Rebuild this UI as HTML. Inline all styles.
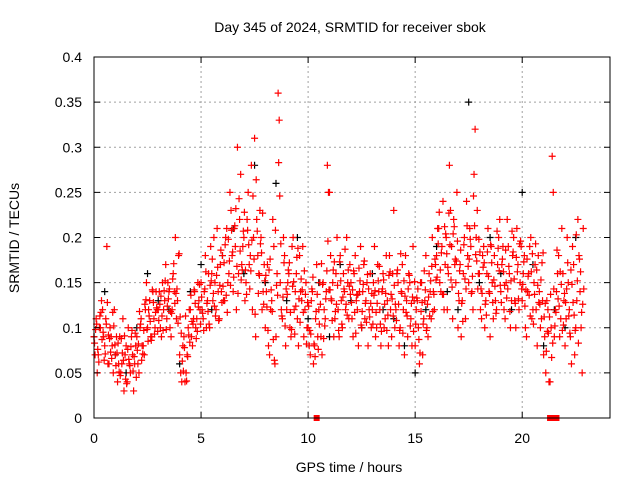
<!DOCTYPE html>
<html><head><meta charset="utf-8"><style>
body{margin:0;background:#fff}
svg{display:block;font-family:"Liberation Sans",sans-serif;font-size:14px}
</style></head><body>
<svg id="chart" width="640" height="480">
<rect width="640" height="480" fill="#fff"/>
<g id="grid"></g>
<g id="marks"></g>
<g id="axes"></g>
<text x="350" y="32" text-anchor="middle">Day 345 of 2024, SRMTID for receiver sbok</text>
<text x="349" y="472" text-anchor="middle">GPS time / hours</text>
<text transform="translate(19,238) rotate(-90)" text-anchor="middle">SRMTID / TECUs</text>
</svg>
<script>
const xTicks=[0,5,10,15,20];
const yTicks=[0,0.05,0.1,0.15,0.2,0.25,0.3,0.35,0.4];
const yTickLabels=["0","0.05","0.1","0.15","0.2","0.25","0.3","0.35","0.4"];
const redA=[.09,.11,.07,.10,.12,.08,.19,.06,.09,.05,.07,.04,.09,.06,.03,.08,.10,.05,.07,.06,.09,.05,.11,.08,.12,.10,.13,.09,.11,.14,.12,.10,.15,.13,.11,.14,.09,.16,.20,.13,.07,.04,.09,.05,.10,.12,.08,.14,.11,.13,.15,.11,.18,.13,.10,.16,.20,.12,.14,.17,.18,.13,.21,.16,.23,.14,.19,.30,.22,.17,.20,.15,.25,.18,.12,.31,.22,.16,.20,.14,.10,.17,.07,.13,.19,.09,.36,.15,.11,.18,.12,.16,.09,.20,.14,.11,.18,.13,.09,.15,.10,.07,.14,.08,.17,.12,.09,.15,.11,.28,.25,.13,.09,.16,.12,.18,.10,.14,.20,.11,.15,.09,.18,.12,.14,.10,.17,.13,.08,.16,.12,.19,.10,.14,.08,.16,.11,.13,.18,.09,.23,.12,.15,.10,.17,.07,.13,.16,.11,.19,.08,.13,.06,.15,.11,.18,.09,.14,.20,.12,.18,.21,.14,.24,.17,.12,.28,.19,.22,.15,.10,.17,.13,.20,.24,.15,.19,.12,.32,.23,.16,.11,.19,.13,.21,.09,.15,.18,.12,.20,.14,.19,.11,.22,.16,.13,.20,.10,.17,.15,.13,.18,.09,.16,.20,.12,.17,.08,.14,.11,.07,.05,.12,.04,.29,.09,.14,.18,.11,.16,.08,.20,.12,.06,.17,.10,.22,.14,.05];
const redB=[.07,.05,.10,.13,.09,.11,.06,.10,.08,.12,.09,.06,.05,.11,.07,.04,.06,.09,.03,.08,.06,.10,.08,.07,.15,.12,.09,.14,.10,.12,.14,.09,.12,.17,.15,.10,.12,.14,.11,.18,.05,.08,.04,.07,.12,.09,.11,.10,.15,.12,.12,.14,.10,.16,.19,.13,.15,.21,.11,.14,.13,.20,.15,.25,.18,.21,.12,.16,.27,.19,.13,.22,.17,.28,.20,.09,.18,.23,.12,.17,.14,.08,.12,.22,.06,.16,.33,.12,.20,.08,.15,.10,.19,.12,.16,.08,.14,.19,.12,.10,.08,.13,.06,.11,.09,.15,.07,.12,.14,.25,.18,.15,.11,.20,.09,.13,.16,.12,.15,.17,.11,.16,.13,.08,.19,.14,.11,.15,.12,.10,.15,.09,.17,.12,.14,.10,.18,.08,.12,.16,.10,.16,.08,.14,.12,.18,.09,.15,.08,.13,.12,.10,.15,.07,.13,.10,.16,.11,.14,.17,.21,.15,.19,.12,.20,.16,.23,.11,.17,.25,.13,.09,.16,.11,.18,.21,.14,.27,.20,.16,.12,.18,.10,.16,.14,.19,.11,.13,.17,.22,.17,.12,.15,.19,.10,.18,.13,.21,.12,.19,.16,.10,.14,.19,.11,.15,.12,.18,.10,.13,.09,.13,.04,.10,.25,.12,.16,.09,.21,.13,.11,.15,.09,.19,.07,.13,.18,.10,.21];
const redC=[.083,.104,.062,.117,.095,.071,.128,.088,.066,.102,.058,.083,.047,.072,.091,.038,.065,.079,.052,.094,.075,.118,.064,.097,.131,.085,.107,.142,.093,.122,.108,.135,.097,.152,.124,.143,.116,.171,.138,.105,.112,.063,.078,.041,.092,.136,.104,.127,.096,.148,.134,.097,.162,.118,.147,.176,.124,.158,.108,.186,.146,.192,.117,.174,.208,.156,.232,.138,.185,.164,.228,.137,.192,.163,.246,.115,.207,.158,.183,.126,.158,.097,.176,.118,.064,.147,.283,.193,.134,.102,.137,.172,.098,.151,.124,.188,.106,.142,.163,.082,.124,.093,.156,.068,.137,.104,.171,.088,.132,.196,.142,.108,.173,.126,.097,.152,.134,.187,.114,.146,.128,.163,.094,.137,.152,.118,.174,.106,.143,.127,.104,.141,.127,.168,.096,.153,.138,.114,.162,.132,.147,.108,.126,.182,.094,.135,.113,.158,.127,.096,.104,.143,.072,.128,.163,.097,.134,.152,.118,.176,.156,.228,.183,.137,.204,.167,.192,.145,.212,.174,.138,.186,.107,.154,.213,.176,.138,.246,.181,.143,.184,.138,.172,.114,.157,.192,.128,.146,.207,.163,.128,.162,.186,.143,.118,.207,.154,.178,.132,.196,.148,.124,.176,.136,.162,.104,.193,.147,.126,.172,.112,.074,.094,.137,.083,.102,.186,.124,.148,.103,.128,.172,.094,.148,.114,.203,.083,.162,.126];
const redD=[.098,.076,.113,.087,.064,.104,.092,.073,.117,.081,.072,.051,.088,.064,.043,.076,.058,.097,.068,.045,.082,.104,.071,.126,.098,.113,.086,.128,.117,.096,.126,.113,.141,.098,.132,.118,.154,.127,.143,.182,.094,.052,.113,.068,.084,.107,.142,.088,.123,.104,.116,.143,.127,.104,.152,.138,.113,.167,.147,.128,.172,.136,.198,.147,.184,.213,.168,.243,.153,.207,.164,.208,.143,.197,.176,.264,.138,.193,.227,.152,.123,.164,.142,.087,.208,.136,.246,.113,.172,.143,.164,.117,.146,.093,.178,.132,.154,.117,.137,.128,.097,.143,.082,.118,.076,.126,.148,.102,.163,.142,.132,.164,.118,.147,.173,.104,.143,.126,.164,.137,.142,.117,.136,.166,.103,.148,.127,.159,.112,.138,.136,.117,.152,.104,.143,.126,.097,.158,.137,.113,.126,.164,.097,.138,.152,.117,.143,.102,.134,.151,.133,.087,.118,.104,.142,.126,.113,.168,.137,.153,.193,.164,.137,.212,.182,.227,.153,.204,.176,.196,.163,.127,.192,.143,.168,.198,.157,.213,.174,.198,.143,.167,.126,.184,.138,.172,.153,.116,.188,.147,.176,.147,.133,.168,.152,.184,.127,.162,.193,.143,.173,.142,.157,.113,.182,.137,.164,.128,.153,.183,.127,.096,.112,.067,.143,.117,.132,.162,.097,.138,.143,.113,.164,.128,.097,.152,.176,.117,.143];
const blackT=[0,0.5,1,1.5,2,2.5,3,3.5,4,4.5,5,5.5,6,6.5,7,7.5,8,8.5,9,9.5,10,10.5,11,11.5,12,12.5,13,13.5,14,14.5,15,15.5,16,16.5,17,17.5,18,18.5,19,19.5,20,20.5,21,21.5,22,22.5];
const blackV=[.09,.14,.07,.05,.10,.16,.13,.12,.06,.14,.17,.12,.18,.21,.16,.28,.15,.26,.13,.20,.11,.15,.09,.17,.13,.10,.16,.12,.11,.08,.05,.12,.19,.14,.12,.35,.15,.20,.16,.12,.25,.17,.08,.12,.10,.20];
const gapT=[10.4,21.3,21.4,21.5,21.6];
const NS="http://www.w3.org/2000/svg";
const X0=94,X1=610,Y0=418,Y1=57,XMAX=24.1,YMAX=0.4;
const xs=t=>X0+(X1-X0)*t/XMAX, ys=v=>Y0-(Y0-Y1)*v/YMAX;
function mk(tag,attrs,parent){const e=document.createElementNS(NS,tag);for(const k in attrs)e.setAttribute(k,attrs[k]);parent.appendChild(e);return e;}
const grid=document.getElementById('grid'),axes=document.getElementById('axes'),marks=document.getElementById('marks');
xTicks.forEach(t=>{const x=xs(t);
 if(t>0){const g=mk('line',{x1:x,x2:x,y1:Y0,y2:Y1,stroke:'#a0a0a0','stroke-dasharray':'2,3'},grid);
 
 }
 mk('line',{x1:x,x2:x,y1:Y0,y2:Y0-6,stroke:'#000'},axes);mk('line',{x1:x,x2:x,y1:Y1,y2:Y1+6,stroke:'#000'},axes);
 const tx=mk('text',{x:x,y:Y0+25,'text-anchor':'middle'},axes);tx.textContent=t;
 
 });
yTicks.forEach((v,i)=>{const y=ys(v);
 if(v>0&&v<YMAX){const g=mk('line',{x1:X0,x2:X1,y1:y,y2:y,stroke:'#a0a0a0','stroke-dasharray':'2,3'},grid);
 
 }
 mk('line',{x1:X0,x2:X0+6,y1:y,y2:y,stroke:'#000'},axes);mk('line',{x1:X1,x2:X1-6,y1:y,y2:y,stroke:'#000'},axes);
 const tx=mk('text',{x:X0-12,y:y+5,'text-anchor':'end'},axes);tx.textContent=yTickLabels[i];
 
 });
mk('rect',{x:X0,y:Y1,width:X1-X0,height:Y0-Y1,fill:'none',stroke:'#000'},axes);
function plus(t,v,c){const x=xs(t),y=ys(v);
 const p=mk('path',{d:`M${x-3.5},${y}h7M${x},${y-3.5}v7`,stroke:c,'stroke-width':1.2,fill:'none'},marks);
 
 }
blackT.forEach((t,i)=>plus(t,blackV[i],'#000'));
redA.forEach((v,i)=>plus(i/10,v,'#f00'));
redB.forEach((v,i)=>plus(i/10+0.05,v,'#f00'));
redC.forEach((v,i)=>plus(i/10+0.025,v,'#f00'));
redD.forEach((v,i)=>plus(i/10+0.075,v,'#f00'));
gapT.forEach(t=>{const r=mk('rect',{x:xs(t)-3,y:Y0-3,width:6,height:6,fill:'#f00'},marks);
 
 });
</script>
</body></html>
